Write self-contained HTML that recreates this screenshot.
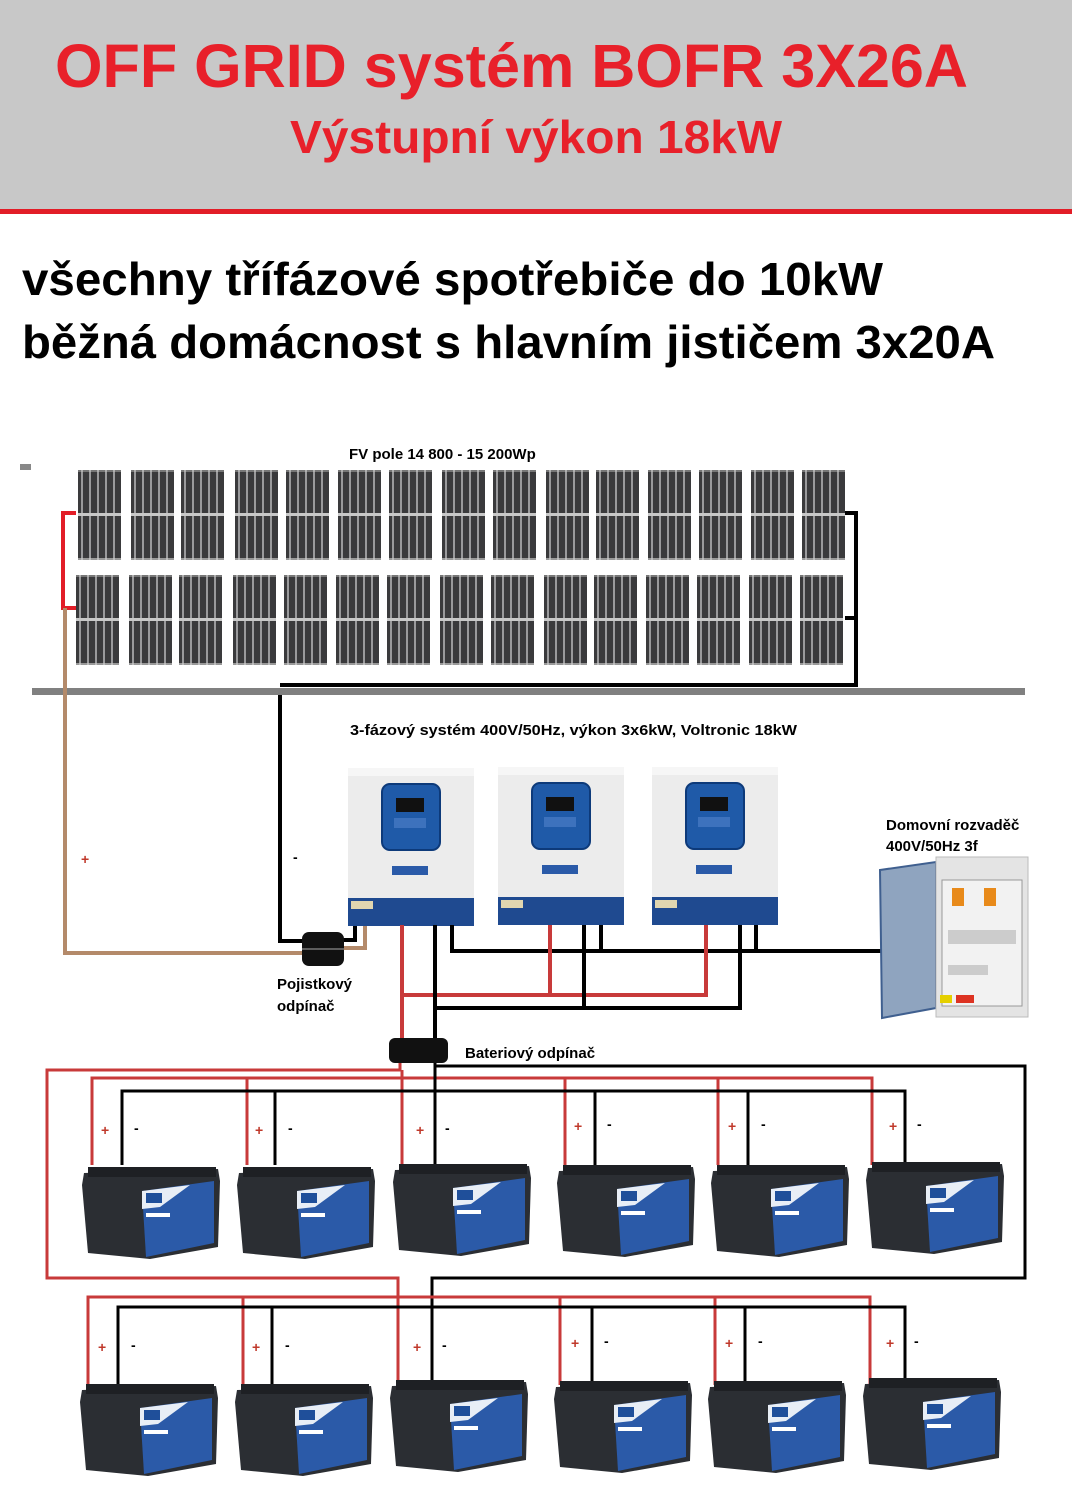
<!DOCTYPE html>
<html><head><meta charset="utf-8"><style>
html,body{margin:0;padding:0;background:#fff}
svg{display:block}
text{font-family:"Liberation Sans",sans-serif}
</style></head><body>
<svg width="1072" height="1493" viewBox="0 0 1072 1493" xmlns="http://www.w3.org/2000/svg">
<defs>
<g id="panel">
<rect x="0" y="0" width="43" height="90" fill="#3a3a3c"/>
<rect x="0" y="0" width="43" height="2" fill="#777"/>
<rect x="0" y="88" width="43" height="2" fill="#999"/>
<g stroke="#cfcfcf" stroke-width="1.3">
<line x1="4" y1="0" x2="4" y2="90"/><line x1="12" y1="0" x2="12" y2="90"/><line x1="20" y1="0" x2="20" y2="90"/><line x1="28" y1="0" x2="28" y2="90"/><line x1="36" y1="0" x2="36" y2="90"/>
</g>
<rect x="0" y="43" width="43" height="3" fill="#c8c8c8"/>
</g>
<g id="bat">
<path d="M4 10 L138 6 L140 18 L138 84 L70 96 L8 90 L2 22 Z" fill="#2b2e33"/>
<rect x="8" y="4" width="128" height="10" fill="#1e2024"/>
<path d="M62 28 L134 18 L134 80 L66 94 Z" fill="#2b5aa8"/>
<path d="M62 28 L110 22 L80 44 L62 46 Z" fill="#e8eef6"/>
<rect x="66" y="50" width="24" height="4" fill="#fff"/>
<rect x="66" y="30" width="16" height="10" fill="#1f4f9a"/>
</g>
<g id="inv">
<rect x="0" y="0" width="126" height="130" fill="#ececec"/>
<rect x="0" y="0" width="126" height="8" fill="#f6f6f6"/>
<rect x="0" y="130" width="126" height="28" fill="#1f4a90"/>
<rect x="3" y="133" width="22" height="8" fill="#e0d6b0"/>
<rect x="34" y="16" width="58" height="66" rx="8" fill="#1f5aa8" stroke="#0d3a7a" stroke-width="2"/>
<rect x="48" y="30" width="28" height="14" fill="#111"/>
<rect x="46" y="50" width="32" height="10" fill="#3d72bd"/>
<rect x="44" y="98" width="36" height="9" fill="#2a5aa8"/>
</g>
</defs>

<rect x="0" y="0" width="1072" height="210" fill="#c8c8c8"/>
<rect x="0" y="209" width="1072" height="5" fill="#e21d27"/>
<text x="55" y="87" font-size="61" font-weight="bold" fill="#e8202a" textLength="913" lengthAdjust="spacingAndGlyphs">OFF GRID systém BOFR 3X26A</text>
<text x="290" y="153" font-size="46" font-weight="bold" fill="#e8202a" textLength="492" lengthAdjust="spacingAndGlyphs">Výstupní výkon 18kW</text>

<text x="22" y="295" font-size="46" font-weight="bold" fill="#000" textLength="861" lengthAdjust="spacingAndGlyphs">všechny třífázové spotřebiče do 10kW</text>
<text x="22" y="358" font-size="46" font-weight="bold" fill="#000" textLength="973" lengthAdjust="spacingAndGlyphs">běžná domácnost s hlavním jističem 3x20A</text>

<text x="349" y="459" font-size="15" font-weight="bold">FV pole 14 800 - 15 200Wp</text>
<rect x="20" y="464" width="11" height="6" fill="#888"/>

<g>
<use href="#panel" x="78" y="470"/><use href="#panel" x="131" y="470"/><use href="#panel" x="181" y="470"/><use href="#panel" x="235" y="470"/><use href="#panel" x="286" y="470"/><use href="#panel" x="338" y="470"/><use href="#panel" x="389" y="470"/><use href="#panel" x="442" y="470"/><use href="#panel" x="493" y="470"/><use href="#panel" x="546" y="470"/><use href="#panel" x="596" y="470"/><use href="#panel" x="648" y="470"/><use href="#panel" x="699" y="470"/><use href="#panel" x="751" y="470"/><use href="#panel" x="802" y="470"/>
<use href="#panel" x="76" y="575"/><use href="#panel" x="129" y="575"/><use href="#panel" x="179" y="575"/><use href="#panel" x="233" y="575"/><use href="#panel" x="284" y="575"/><use href="#panel" x="336" y="575"/><use href="#panel" x="387" y="575"/><use href="#panel" x="440" y="575"/><use href="#panel" x="491" y="575"/><use href="#panel" x="544" y="575"/><use href="#panel" x="594" y="575"/><use href="#panel" x="646" y="575"/><use href="#panel" x="697" y="575"/><use href="#panel" x="749" y="575"/><use href="#panel" x="800" y="575"/>
</g>
<path d="M76 513 H63 V608 H76" fill="none" stroke="#e21d27" stroke-width="4"/>
<path d="M845 513 H856 V685 H280" fill="none" stroke="#000" stroke-width="4"/>
<path d="M845 618 H856" stroke="#000" stroke-width="4"/>
<rect x="32" y="688" width="993" height="7" fill="#808080"/>
<path d="M65 608 V953 H305" fill="none" stroke="#b48a6a" stroke-width="4"/>
<path d="M280 695 V941 H305" fill="none" stroke="#000" stroke-width="4"/>
<path d="M343 948 H365 V925" fill="none" stroke="#b48a6a" stroke-width="4"/>
<path d="M343 940 H355 V925" fill="none" stroke="#000" stroke-width="4"/>
<text x="81" y="864" font-size="14" fill="#c0392b" font-weight="bold">+</text>
<text x="293" y="862" font-size="14" font-weight="bold">-</text>
<rect x="302" y="932" width="42" height="34" rx="7" fill="#111"/>
<line x1="302" y1="949" x2="344" y2="949" stroke="#777" stroke-width="1.5"/>
<text x="277" y="989" font-size="15" font-weight="bold">Pojistkový</text>
<text x="277" y="1011" font-size="15" font-weight="bold">odpínač</text>

<text x="350" y="735" font-size="15" font-weight="bold" textLength="447" lengthAdjust="spacingAndGlyphs">3-fázový systém 400V/50Hz, výkon 3x6kW, Voltronic 18kW</text>
<use href="#inv" x="348" y="768"/>
<use href="#inv" x="498" y="767"/>
<use href="#inv" x="652" y="767"/>

<g fill="none" stroke-width="4">
<path d="M452 925 V951 H882" stroke="#000"/>
<path d="M601 925 V951 M756 925 V951" stroke="#000"/>
<path d="M402 925 V1040 M402 995 H706 V925 M550 925 V995" stroke="#c83a3a"/>
<path d="M435 925 V1040 M435 1008 H740 V925 M584 925 V1008" stroke="#000"/>
</g>

<text x="886" y="830" font-size="15" font-weight="bold">Domovní rozvaděč</text>
<text x="886" y="851" font-size="15" font-weight="bold">400V/50Hz 3f</text>
<path d="M880 870 L936 862 L936 1008 L882 1018 Z" fill="#8fa4bf" stroke="#3f5f8f" stroke-width="2"/>
<rect x="936" y="857" width="92" height="160" fill="#e4e4e4" stroke="#bbb"/>
<rect x="942" y="880" width="80" height="126" fill="#f2f2f2" stroke="#999"/>
<rect x="952" y="888" width="12" height="18" fill="#e88a1a"/><rect x="984" y="888" width="12" height="18" fill="#e88a1a"/>
<rect x="948" y="930" width="68" height="14" fill="#ccc"/>
<rect x="948" y="965" width="40" height="10" fill="#ccc"/>
<rect x="940" y="995" width="12" height="8" fill="#e5d000"/><rect x="956" y="995" width="18" height="8" fill="#d32"/>

<rect x="389" y="1038" width="59" height="25" rx="6" fill="#111"/>
<text x="465" y="1058" font-size="15" font-weight="bold">Bateriový odpínač</text>

<g fill="none" stroke-width="3">
<path d="M400 1063 V1070 H47 V1278 H398 V1297" stroke="#c83a3a"/>
<path d="M435 1063 V1066 H1025 V1278 H432 V1307" stroke="#000"/>
<path d="M92 1165 V1078 H872 V1165 M247 1078 V1165 M402 1070 V1165 M565 1078 V1165 M718 1078 V1165" stroke="#c83a3a"/>
<path d="M122 1165 V1091 H905 V1165 M275 1091 V1165 M435 1066 V1165 M595 1091 V1165 M748 1091 V1165" stroke="#000"/>
<path d="M88 1385 V1297 H870 V1385 M243 1297 V1385 M398 1297 V1385 M560 1297 V1385 M715 1297 V1385" stroke="#c83a3a"/>
<path d="M118 1385 V1307 H905 V1385 M272 1307 V1385 M432 1307 V1385 M592 1307 V1385 M745 1307 V1385" stroke="#000"/>
</g>
<g font-size="14" font-weight="bold">
<text x="101" y="1135" fill="#c0392b">+</text><text x="134" y="1133">-</text>
<text x="255" y="1135" fill="#c0392b">+</text><text x="288" y="1133">-</text>
<text x="416" y="1135" fill="#c0392b">+</text><text x="445" y="1133">-</text>
<text x="574" y="1131" fill="#c0392b">+</text><text x="607" y="1129">-</text>
<text x="728" y="1131" fill="#c0392b">+</text><text x="761" y="1129">-</text>
<text x="889" y="1131" fill="#c0392b">+</text><text x="917" y="1129">-</text>
<text x="98" y="1352" fill="#c0392b">+</text><text x="131" y="1350">-</text>
<text x="252" y="1352" fill="#c0392b">+</text><text x="285" y="1350">-</text>
<text x="413" y="1352" fill="#c0392b">+</text><text x="442" y="1350">-</text>
<text x="571" y="1348" fill="#c0392b">+</text><text x="604" y="1346">-</text>
<text x="725" y="1348" fill="#c0392b">+</text><text x="758" y="1346">-</text>
<text x="886" y="1348" fill="#c0392b">+</text><text x="914" y="1346">-</text>
</g>
<use href="#bat" x="80" y="1163"/><use href="#bat" x="235" y="1163"/><use href="#bat" x="391" y="1160"/><use href="#bat" x="555" y="1161"/><use href="#bat" x="709" y="1161"/><use href="#bat" x="864" y="1158"/>
<use href="#bat" x="78" y="1380"/><use href="#bat" x="233" y="1380"/><use href="#bat" x="388" y="1376"/><use href="#bat" x="552" y="1377"/><use href="#bat" x="706" y="1377"/><use href="#bat" x="861" y="1374"/>
</svg>
</body></html>
